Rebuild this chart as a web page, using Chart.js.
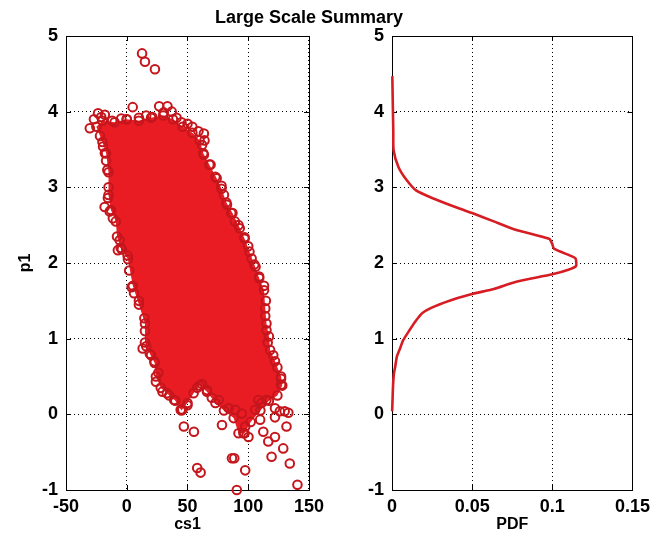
<!DOCTYPE html>
<html>
<head>
<meta charset="utf-8">
<script src="https://cdn.jsdelivr.net/npm/chart.js@4.4.1/dist/chart.umd.min.js"></script>
<style>
  html, body { margin: 0; padding: 0; background: #ffffff; }
  #wrap { position: relative; width: 656px; height: 536px; overflow: hidden; background: #ffffff; }
  #title { position: absolute; left: 0; width: 618px; top: 8px; text-align: center;
           font: bold 18px "Liberation Sans", Arial, sans-serif; line-height: 18px; color: #000; }
  #left { position: absolute; left: 0; top: 0; }
  #right { position: absolute; left: 328px; top: 0; }
</style>
</head>
<body>
<div id="wrap">
  <canvas id="left" width="330" height="536"></canvas>
  <canvas id="right" width="328" height="536"></canvas>
  <div id="title">Large Scale Summary</div>
</div>
<script>
// ---- tick values and labels ----
const cs1Ticks = [-50, 0, 50, 100, 150];
const cs1TickLabels = ['-50', '0', '50', '100', '150'];
const p1Ticks = [-1, 0, 1, 2, 3, 4, 5];
const p1TickLabels = ['-1', '0', '1', '2', '3', '4', '5'];
const pdfTicks = [0, 0.05, 0.1, 0.15];
const pdfTickLabels = ['0', '0.05', '0.1', '0.15'];

// ---- dense core of the cs1 / p1 sample cloud (outline, clockwise) ----
const coreCs1 = [-25, -20, -10, 0, 10, 20, 30, 38, 46, 54, 60, 63, 68, 74, 78, 82, 87, 92, 97, 101,
  105, 109, 113, 114, 115, 117, 118, 122, 127, 128, 124, 117, 110, 102, 97, 92, 88, 80, 73, 66,
  60, 55, 50, 45, 40, 33, 28, 24, 23, 19, 15, 15, 10, 5, 1, -5, -8, -9, -13, -15,
  -15, -17, -20];
const coreP1 = [3.80, 3.88, 3.86, 3.90, 3.88, 3.92, 3.95, 3.90, 3.80, 3.72, 3.62, 3.45, 3.30, 3.12, 2.98, 2.80, 2.66, 2.50, 2.32, 2.15,
  1.98, 1.80, 1.64, 1.40, 1.20, 1.03, 0.85, 0.70, 0.50, 0.38, 0.25, 0.18, 0.05, -0.10, -0.25, -0.25, -0.05, 0.05, 0.15, 0.30,
  0.38, 0.28, 0.15, 0.05, 0.18, 0.28, 0.35, 0.50, 0.68, 0.80, 0.95, 1.20, 1.45, 1.70, 2.05, 2.20, 2.35, 2.55, 2.70, 2.90,
  3.20, 3.45, 3.60];

// ---- individual samples along the cloud edge and the outliers ----
const sampleCs1 = [
  12.6, 15, 23.2,
  -30.4, -27, -23.6, -21, -18, -12, -4.5, 0, 4.9, 10, 16, 21, 26.7, 33.5, 30.4, 37, 41, 45, 50, 54, 59, 63.5, 62, 64, 63.5,
  69, 73, 78, 80, 82.5, 86, 89, 93, 97, 100, 102.8, 106, 109, 113,
  114.5, 114, 115, 116, 120.6, 124, 127, 127,
  115, 122, 126, 130, 133, 111, 108.4, 105.7, 109.8, 112.4, 116.5, 122, 128.8, 119.2, 131.5, 134.2, 140.5, 122,
  100.2, 97.5, 96, 94.7, 89.3, 83.9, 78.4, 75.7, 86.6, 88.5, 97.5, 90.6, 70, 66, 62, 58,
  55.3, 47, 45.8, 44.4, 39, 35, 29.4, 24, 26, 22.7, 20, 13.1, 16, 58, 60.8, 50,
  15, 14.5, 10, 6, 4, 2, 0.7, -4, -7.3, -5.8, -11.4, -14, -18.2, -15.5, -15, -16, -17, -18, -19.5, -22
];
const sampleP1 = [
  4.77, 4.66, 4.56,
  3.78, 3.90, 3.98, 3.93, 3.96, 3.88, 3.91, 3.90, 4.06, 3.92, 3.95, 3.93, 4.07, 4.07, 3.99, 4.00, 3.92, 3.86, 3.84, 3.80, 3.74, 3.71, 3.56, 3.62, 3.43,
  3.30, 3.14, 3.02, 2.90, 2.77, 2.66, 2.55, 2.46, 2.34, 2.22, 2.06, 1.95, 1.82, 1.70,
  1.50, 1.30, 1.11, 0.95, 0.78, 0.62, 0.47, 0.39,
  0.19, 0.08, 0.04, 0.04, 0.02, 0.15, 0.19, 0.06, -0.07, -0.23, -0.36, -0.30, -0.45, -0.56, -0.16, -0.65, -0.93, -0.04,
  -0.30, -0.16, -0.25, 0.01, 0.06, 0.08, -0.14, 0.19, -0.58, -0.58, -0.74, -1.00, 0.22, 0.32, 0.40, 0.35,
  -0.23, -0.16, 0.06, 0.06, 0.19, 0.25, 0.30, 0.43, 0.55, 0.70, 0.78, 0.87, 0.90, -0.71, -0.77, 0.12,
  1.10, 1.27, 1.50, 1.60, 1.68, 1.90, 2.10, 2.18, 2.17, 2.30, 2.59, 2.68, 2.74, 2.86, 3.00, 3.23, 3.35, 3.45, 3.54, 3.68
];

// ---- estimated density of p1 ----
const pdfP1 = [4.47, 4.10, 3.74, 3.49, 3.27, 3.10, 2.96, 2.86, 2.72, 2.66, 2.55, 2.44, 2.32, 2.25, 2.19, 2.09, 2.06,
  1.96, 1.91, 1.85, 1.75, 1.66, 1.59, 1.53, 1.43, 1.34, 1.24, 1.115, 0.98, 0.87, 0.76, 0.63, 0.54, 0.40, 0.23, 0.04];
const pdfVal = [0.0002, 0.0005, 0.0008, 0.001, 0.004, 0.009, 0.015, 0.025, 0.042, 0.050, 0.0635, 0.077, 0.098, 0.100, 0.101, 0.112, 0.1145,
  0.1148, 0.110, 0.100, 0.077, 0.064, 0.050, 0.040, 0.027, 0.019, 0.015, 0.011, 0.007, 0.005, 0.003, 0.002, 0.0012, 0.0007, 0.0004, 0.0001];

const RED = '#e91c24';
const RING = '#c4161c';

Chart.defaults.font.family = '"Liberation Sans", Arial, sans-serif';
Chart.defaults.font.weight = 'bold';
Chart.defaults.font.size = 18;
Chart.defaults.color = '#000';

const zip = (xs, ys) => xs.map((x, i) => ({ x: x, y: ys[i] }));

// fills the dataset flagged as `polygon` as a closed shape using its parsed pixel positions
const polygonFill = {
  id: 'polygonFill',
  beforeDatasetsDraw(chart) {
    const ctx = chart.ctx;
    chart.data.datasets.forEach((ds, i) => {
      if (!ds.polygon) return;
      const pts = chart.getDatasetMeta(i).data;
      ctx.save();
      ctx.beginPath();
      pts.forEach((p, k) => (k ? ctx.lineTo(p.x, p.y) : ctx.moveTo(p.x, p.y)));
      ctx.closePath();
      ctx.fillStyle = ds.polygonColor;
      ctx.fill();
      ctx.restore();
    });
  }
};

// box around the plot area with short inward tick marks on every side
const axesBox = {
  id: 'axesBox',
  beforeDatasetsDraw(chart) {
    const { ctx, chartArea: a, scales } = chart;
    ctx.save();
    ctx.strokeStyle = '#000';
    ctx.lineWidth = 1;
    ctx.setLineDash([]);
    ctx.strokeRect(Math.round(a.left) + 0.5, Math.round(a.top) + 0.5,
      Math.round(a.right - a.left), Math.round(a.bottom - a.top));
    const len = 5;
    ctx.beginPath();
    scales.x.ticks.forEach(t => {
      const px = Math.round(scales.x.getPixelForValue(t.value)) + 0.5;
      ctx.moveTo(px, a.bottom); ctx.lineTo(px, a.bottom - len);
      ctx.moveTo(px, a.top); ctx.lineTo(px, a.top + len);
    });
    scales.y.ticks.forEach(t => {
      const py = Math.round(scales.y.getPixelForValue(t.value)) + 0.5;
      ctx.moveTo(a.left, py); ctx.lineTo(a.left + len, py);
      ctx.moveTo(a.right, py); ctx.lineTo(a.right - len, py);
    });
    ctx.stroke();
    ctx.restore();
  }
};

function axis(min, max, values, labels, opts) {
  return Object.assign({
    type: 'linear',
    min: min,
    max: max,
    afterBuildTicks: s => { s.ticks = values.map(v => ({ value: v })); },
    grid: { color: '#000', lineWidth: 1, drawTicks: false },
    border: { display: false, dash: [1, 3] }
  }, opts);
}

function xAxis(min, max, values, labels, title) {
  return axis(min, max, values, labels, {
    position: 'bottom',
    ticks: { callback: (v, i) => labels[i], autoSkip: false, maxRotation: 0, color: '#000', padding: 6 },
    title: { display: true, text: title, font: { size: 16, weight: 'bold' }, color: '#000', padding: { top: 0, bottom: 2 } },
    afterFit: s => { s.height = 46; }
  });
}

function yAxis(width, title) {
  const o = {
    position: 'left',
    ticks: { callback: (v, i) => p1TickLabels[i], autoSkip: false, color: '#000', padding: 8 },
    afterFit: s => { s.width = width; }
  };
  if (title) {
    o.title = { display: true, text: title, font: { size: 16, weight: 'bold' }, color: '#000', padding: { top: 16, bottom: 0 } };
  }
  return axis(-1, 5, p1Ticks, p1TickLabels, o);
}

const common = {
  responsive: false,
  animation: false,
  events: [],
  plugins: { legend: { display: false }, tooltip: { enabled: false } }
};

new Chart(document.getElementById('left'), {
  type: 'scatter',
  data: {
    datasets: [
      {
        // filled core; its vertices are drawn as sample rings too
        data: zip(coreCs1, coreP1),
        polygon: true,
        polygonColor: RED,
        showLine: false,
        pointStyle: 'circle',
        pointRadius: 4.3,
        pointBorderWidth: 2,
        pointBorderColor: RING,
        pointBackgroundColor: 'rgba(0,0,0,0)',
        clip: false
      },
      {
        data: zip(sampleCs1, sampleP1),
        pointStyle: 'circle',
        pointRadius: 4.3,
        pointBorderWidth: 2,
        pointBorderColor: RING,
        pointBackgroundColor: 'rgba(0,0,0,0)',
        clip: false
      }
    ]
  },
  options: Object.assign({}, common, {
    layout: { padding: { left: 0, right: 19, top: 36, bottom: 0 } },
    scales: {
      x: xAxis(-50, 150, cs1Ticks, cs1TickLabels, 'cs1'),
      y: yAxis(66, 'p1')
    }
  }),
  plugins: [axesBox, polygonFill]
});

new Chart(document.getElementById('right'), {
  type: 'scatter',
  data: {
    datasets: [
      {
        data: zip(pdfVal, pdfP1),
        showLine: true,
        borderColor: '#d61d24',
        borderWidth: 2.6,
        pointRadius: 0,
        tension: 0.2,
        clip: false
      }
    ]
  },
  options: Object.assign({}, common, {
    layout: { padding: { left: 0, right: 19, top: 36, bottom: 0 } },
    scales: {
      x: xAxis(0, 0.15, pdfTicks, pdfTickLabels, 'PDF'),
      y: yAxis(64, null)
    }
  }),
  plugins: [axesBox]
});
</script>
</body>
</html>
